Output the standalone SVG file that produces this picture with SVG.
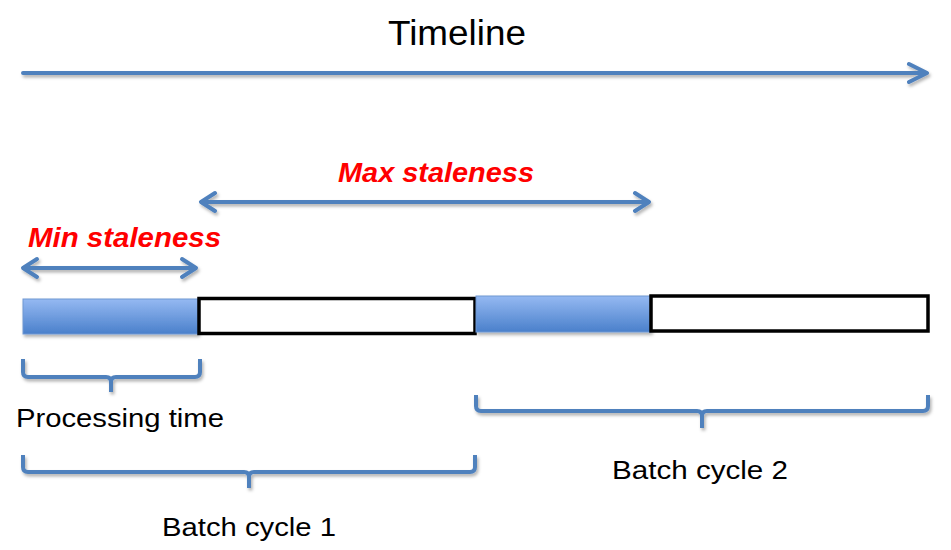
<svg xmlns="http://www.w3.org/2000/svg" width="951" height="550" viewBox="0 0 951 550">
<style>
.ln{fill:none;stroke:#4f81bd;stroke-width:4;stroke-linecap:round;stroke-linejoin:round}
.br{fill:none;stroke:#4f81bd;stroke-width:4;stroke-linecap:butt;stroke-linejoin:round}
.lbl{font-family:"Liberation Sans",Arial,sans-serif;fill:#000}
.red{font-family:"Liberation Sans",Arial,sans-serif;font-weight:bold;font-style:italic;fill:#ff0000}
.box{fill:#fff;stroke:#000;stroke-width:3.5}
</style>
<defs>
<linearGradient id="blue" x1="0" y1="0" x2="0" y2="1">
<stop offset="0" stop-color="#95b9f2"/>
<stop offset="1" stop-color="#4a80cb"/>
</linearGradient>
<filter id="sh" x="-5%" y="-30%" width="110%" height="180%">
<feDropShadow dx="1.5" dy="2.5" stdDeviation="1.5" flood-color="#000" flood-opacity="0.3"/>
</filter>
</defs>
<g id="title"><text class="lbl" x="457" y="45" font-size="35" text-anchor="middle" textLength="138" lengthAdjust="spacingAndGlyphs">Timeline</text></g>
<g id="connectors" filter="url(#sh)">
<path id="timeline-arrow" class="ln" d="M23,73 L925,73 M909,64 L927,73 L909,82"/>
<path id="max-arrow" class="ln" d="M201,202 L649,202 M215,193 L201,202 L215,211 M635,193 L649,202 L635,211"/>
<path id="min-arrow" class="ln" d="M23,268 L196,268 M37,259 L23,268 L37,277 M182,259 L196,268 L182,277"/>
</g>
<g id="max-label"><text class="red" x="338" y="182" font-size="28.5" textLength="196" lengthAdjust="spacingAndGlyphs">Max staleness</text></g>
<g id="min-label"><text class="red" x="28" y="247" font-size="28.5" textLength="193" lengthAdjust="spacingAndGlyphs">Min staleness</text></g>
<g id="proc1" filter="url(#sh)"><rect x="23" y="299" width="175" height="35" fill="url(#blue)" stroke="#6f97d2" stroke-width="1"/></g>
<g id="wait1"><rect class="box" x="199" y="298.5" width="276" height="35"/></g>
<g id="proc2" filter="url(#sh)"><rect x="476" y="296" width="175" height="36" fill="url(#blue)" stroke="#6f97d2" stroke-width="1"/></g>
<g id="wait2"><rect class="box" x="651" y="296" width="277" height="35"/></g>
<g id="brackets" filter="url(#sh)">
<path id="proc-bracket" class="br" d="M23,359 L23,372 Q23,377 28,377 L106,377 Q111,377 111,382 L111,392 M111,382 Q111,377 116,377 L195,377 Q200,377 200,372 L200,359"/>
<path id="cycle1-bracket" class="br" d="M23,455 L23,467 Q23,472 28,472 L244,472 Q249,472 249,477 L249,488 M249,477 Q249,472 254,472 L470,472 Q475,472 475,467 L475,455"/>
<path id="cycle2-bracket" class="br" d="M476,395 L476,406 Q476,411 481,411 L697,411 Q702,411 702,416 L702,428 M702,416 Q702,411 707,411 L923,411 Q928,411 928,406 L928,395"/>
</g>
<g id="proc-label"><text class="lbl" x="16" y="427" font-size="25" textLength="208" lengthAdjust="spacingAndGlyphs">Processing time</text></g>
<g id="cycle2-label"><text class="lbl" x="612" y="479" font-size="25" textLength="176" lengthAdjust="spacingAndGlyphs">Batch cycle 2</text></g>
<g id="cycle1-label"><text class="lbl" x="162" y="536" font-size="25" textLength="174" lengthAdjust="spacingAndGlyphs">Batch cycle 1</text></g>
</svg>
